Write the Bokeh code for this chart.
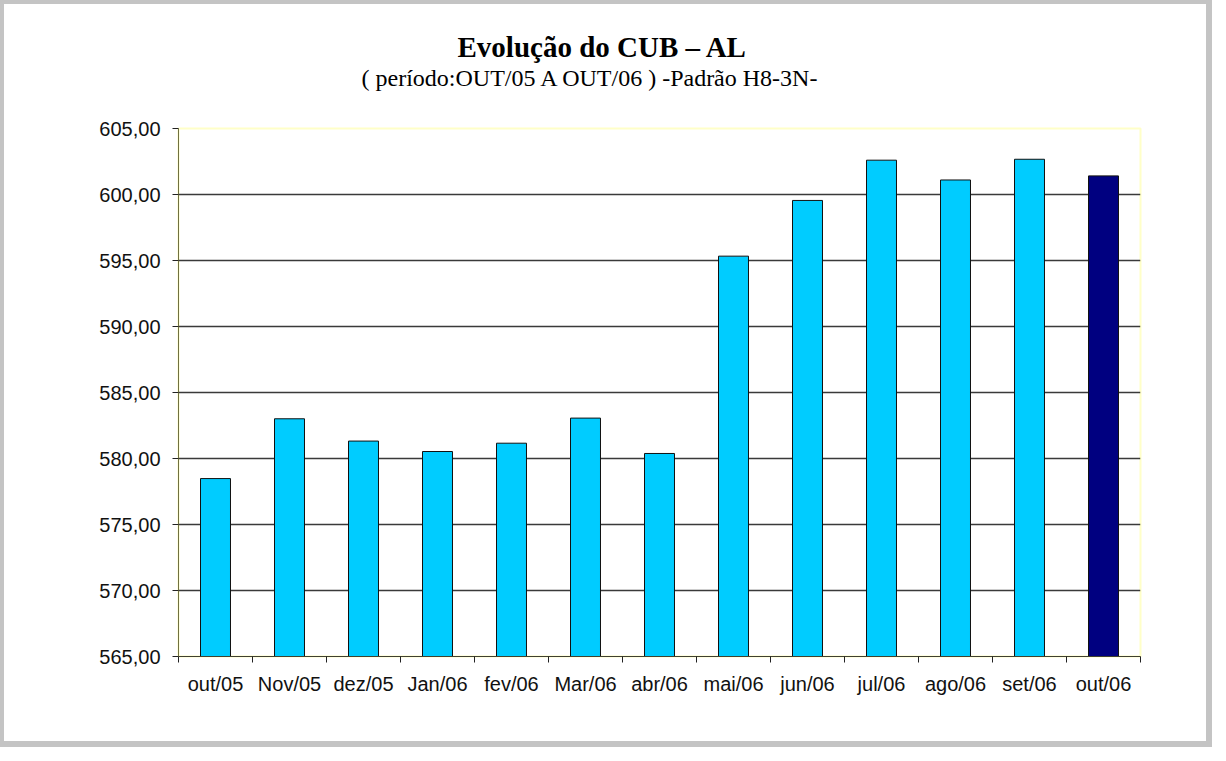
from bokeh.plotting import figure
from bokeh.models import Range1d, FixedTicker, LinearAxis, Title
from bokeh.embed import file_html
from bokeh.resources import INLINE

months = ["out/05", "Nov/05", "dez/05", "Jan/06", "fev/06", "Mar/06", "abr/06",
          "mai/06", "jun/06", "jul/06", "ago/06", "set/06", "out/06"]
cub_values = [578.48, 583.01, 581.32, 580.53, 581.16, 583.06, 580.38,
              595.33, 599.55, 602.60, 601.10, 602.67, 601.41]
bar_colors = ["#00CCFF"] * 12 + ["#000080"]
y_ticks = [565, 570, 575, 580, 585, 590, 595, 600, 605]
y_tick_labels = ["565,00", "570,00", "575,00", "580,00", "585,00",
                 "590,00", "595,00", "600,00", "605,00"]
title_text = "Evolução do CUB – AL"
subtitle_text = "( período:OUT/05 A OUT/06 ) -Padrão H8-3N-"

SANS = "Liberation Sans"
SERIF = "Liberation Serif"

n = len(months)
centers = [i + 0.5 for i in range(n)]

p = figure(width=1210, height=745,
           x_range=Range1d(0, n),
           y_range=Range1d(565, 605),
           x_axis_location=None,
           output_backend="svg", toolbar_location=None,
           min_border_left=174, min_border_right=74,
           min_border_top=124, min_border_bottom=93)
p.styles = {"border": "4px solid #c4c4c4",
            "box-shadow": "0 0 0 2px #c4c4c4",
            "outline": "2px solid #bcbcbc", "outline-offset": "-8px"}
p.background_fill_color = "white"
p.border_fill_color = "white"
p.outline_line_color = "#FFFFC8"
p.outline_line_width = 2

src = dict(x=centers, top=cub_values, color=bar_colors)
p.vbar(x="x", top="top", bottom=565, width=0.405, fill_color="color",
       line_color="#111111", line_width=1, source=src)

# y axis
yax = p.yaxis[0]
yax.ticker = FixedTicker(ticks=y_ticks)
yax.major_label_overrides = {t: l for t, l in zip(y_ticks, y_tick_labels)}
yax.major_label_text_font = SANS
yax.major_label_text_font_size = "20px"
yax.major_label_text_color = "#111111"
yax.major_label_standoff = 12
yax.axis_line_color = "#707040"
yax.axis_line_width = 1
yax.major_tick_line_color = "#222222"
yax.major_tick_out = 6
yax.major_tick_in = 0
yax.minor_tick_line_color = None

p.xgrid.visible = False
p.ygrid.ticker = FixedTicker(ticks=y_ticks[1:-1])
p.ygrid.grid_line_color = "#3a3a3a"
p.ygrid.grid_line_width = 1.5

# x axis: boundary ticks + category labels
tick_ax = LinearAxis(ticker=FixedTicker(ticks=list(range(n + 1))))
tick_ax.major_label_text_font_size = "1px"
tick_ax.major_label_text_color = None
tick_ax.major_label_standoff = 0
tick_ax.axis_line_color = "#404030"
tick_ax.major_tick_line_color = "#222222"
tick_ax.major_tick_out = 6
tick_ax.major_tick_in = 0
tick_ax.minor_tick_line_color = None
p.add_layout(tick_ax, "below")

lab_ax = LinearAxis(ticker=FixedTicker(ticks=centers))
lab_ax.major_label_overrides = {c: m for c, m in zip(centers, months)}
lab_ax.axis_line_color = None
lab_ax.major_tick_line_color = None
lab_ax.minor_tick_line_color = None
lab_ax.major_label_text_font = SANS
lab_ax.major_label_text_font_size = "20px"
lab_ax.major_label_text_color = "#111111"
lab_ax.major_label_standoff = 4
p.add_layout(lab_ax, "below")

# titles (spacer nearest the frame, then subtitle, then main title)
p.add_layout(Title(text=" ", text_font_size="1px", standoff=35), "above")
p.add_layout(Title(text=subtitle_text, align="left", offset=183, standoff=0,
                   text_font=SERIF, text_font_style="normal",
                   text_font_size="24px", text_color="#000000"), "above")
p.add_layout(Title(text=title_text, align="left", offset=279, standoff=0,
                   text_font=SERIF, text_font_style="bold",
                   text_font_size="29px", text_color="#000000"), "above")

open("out.html", "w").write(file_html(p, INLINE))
